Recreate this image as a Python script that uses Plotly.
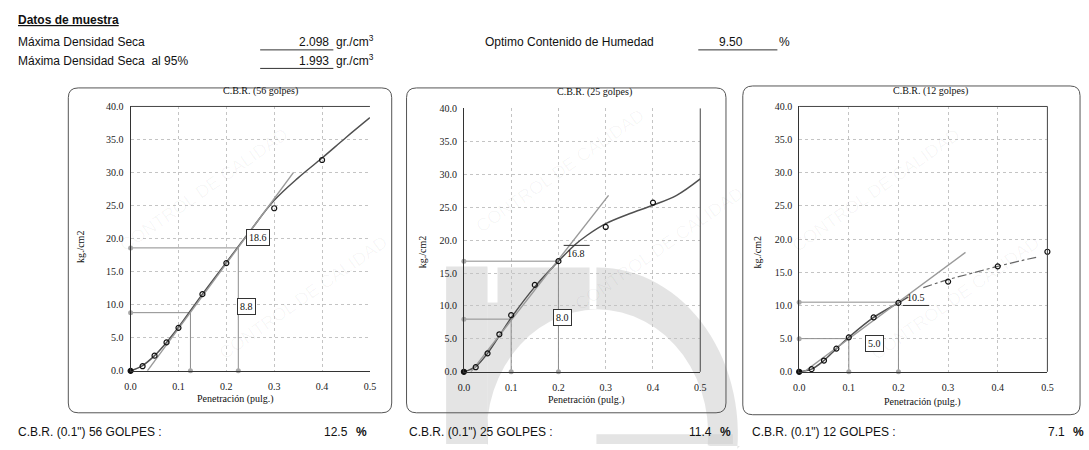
import plotly.graph_objects as go
import math

W, H = 1089, 450

# ---------------- data ----------------
pen = [0.0, 0.025, 0.05, 0.075, 0.1, 0.15, 0.2, 0.3, 0.4]
pen_12 = [0.0, 0.025, 0.05, 0.075, 0.1, 0.15, 0.2, 0.3, 0.4, 0.5]

load_56 = [0.0, 0.7, 2.3, 4.3, 6.5, 11.6, 16.3, 24.6, 31.9]
load_25 = [0.0, 0.7, 2.8, 5.7, 8.6, 13.2, 16.8, 22.0, 25.7]
load_12 = [0.0, 0.4, 1.7, 3.5, 5.2, 8.2, 10.4, 13.6, 15.9, 18.1]

curve_56_x = [0.0, 0.025, 0.05, 0.075, 0.1, 0.15, 0.2, 0.25, 0.3, 0.35, 0.4, 0.45, 0.5]
curve_56_y = [0.0, 0.8, 2.3, 4.3, 6.6, 11.6, 16.4, 21.2, 25.8, 29.2, 32.2, 35.3, 38.3]
curve_25_x = [0.0, 0.025, 0.05, 0.1, 0.15, 0.2, 0.235, 0.26, 0.3, 0.35, 0.4, 0.45, 0.5]
curve_25_y = [0.0, 0.8, 2.8, 8.2, 12.9, 16.8, 19.3, 20.7, 22.5, 24.0, 25.3, 26.8, 29.3]
curve_12_x = [0.0, 0.025, 0.05, 0.075, 0.1, 0.15, 0.2, 0.22]
curve_12_y = [0.0, 0.4, 1.7, 3.5, 5.2, 8.2, 10.4, 11.3]
dash_12_x = [0.25, 0.3, 0.35, 0.4, 0.45, 0.48]
dash_12_y = [12.7, 13.9, 14.9, 15.9, 16.8, 17.3]

tang_56_x = [0.035, 0.34]
tang_56_y = [0.0, 30.0]
tang_25_x = [0.015, 0.306]
tang_25_y = [0.0, 26.8]
tang_12_x = [0.01, 0.335]
tang_12_y = [0.0, 18.0]

corr_pen = [0.1, 0.2]
corr_56_pen = [0.125, 0.225]
corr_56 = [8.8, 18.6]
corr_25 = [8.0, 16.8]
corr_12 = [5.0, 10.5]

titles = ["C.B.R. (56 golpes)", "C.B.R. (25 golpes)", "C.B.R. (12 golpes)"]
cbr_labels = ['C.B.R. (0.1") 56 GOLPES :', 'C.B.R. (0.1") 25 GOLPES :', 'C.B.R. (0.1") 12 GOLPES :']
cbr_values = ["12.5", "11.4", "7.1"]

y_ticks = [0, 5, 10, 15, 20, 25, 30, 35, 40]
x_ticks = [0, 0.1, 0.2, 0.3, 0.4, 0.5]

# ---------------- helpers ----------------
def px(x):
    return x / W

def py(y):
    return 1 - y / H

SERIF = "Liberation Serif"
SANS = "Liberation Sans"

fig = go.Figure()

areas = [(126, 368, 104, 375), (463, 702, 106, 376), (802, 1053, 104, 376)]

charts = [
    dict(pts_x=pen, pts_y=load_56, cx=curve_56_x, cy=curve_56_y, tx=tang_56_x, ty=tang_56_y,
         cpx=corr_56_pen, cpy=corr_56),
    dict(pts_x=pen, pts_y=load_25, cx=curve_25_x, cy=curve_25_y, tx=tang_25_x, ty=tang_25_y,
         cpx=corr_pen, cpy=corr_25),
    dict(pts_x=pen_12, pts_y=load_12, cx=curve_12_x, cy=curve_12_y, tx=tang_12_x, ty=tang_12_y,
         cpx=corr_pen, cpy=corr_12),
]

shapes = []
annotations = []

# faint watermark
wm = "CONTROL DE CALIDAD"
for (wx, wy) in [(200, 190), (300, 300), (560, 170), (660, 250), (880, 190), (960, 300)]:
    annotations.append(dict(x=px(wx), y=py(wy), text=wm, textangle=-35,
                            font=dict(family=SANS, size=18, color="rgba(0,0,0,0.035)")))

# logo-like gray band (background)
def ellipse_pts(cx, cy, rx, ry, a0, a1, n=30):
    pts = []
    for k in range(n + 1):
        a = math.radians(a0 + (a1 - a0) * k / n)
        pts.append((cx + rx * math.cos(a), cy - ry * math.sin(a)))
    return pts

ecx, ecy = 598, 440
outer = ellipse_pts(ecx, ecy, 142, 171, 90, -5)
inner = ellipse_pts(ecx, ecy, 112, 128, -5, 185)
pts = [(487, 450), (487, 269), (598, 269)] + outer + [(742, 452)] + [(712, 452)] + inner + [(486, 452)]
path = "M " + " L ".join(f"{px(a):.5f},{py(b):.5f}" for a, b in pts) + " Z"
gray = "rgba(205,205,205,0.55)"
shapes.append(dict(type="path", path=path, xref="paper", yref="paper", fillcolor=gray, line=dict(width=0), layer="below"))
shapes.append(dict(type="rect", x0=px(445), x1=px(487), y0=py(450), y1=py(268), xref="paper", yref="paper",
                   fillcolor=gray, line=dict(width=0), layer="below"))
shapes.append(dict(type="rect", x0=px(487), x1=px(497), y0=py(305), y1=py(266), xref="paper", yref="paper",
                   fillcolor="white", line=dict(width=0), layer="below"))
shapes.append(dict(type="rect", x0=px(590), x1=px(597), y0=py(312), y1=py(266), xref="paper", yref="paper",
                   fillcolor="white", line=dict(width=0), layer="below"))
shapes.append(dict(type="rect", x0=px(597), x1=px(735), y0=py(450), y1=py(440), xref="paper", yref="paper",
                   fillcolor=gray, line=dict(width=0), layer="below"))

def rrect(x0, y0, x1, y1, r=10):
    P = lambda a, b: f"{px(a):.5f},{py(b):.5f}"
    return (f"M {P(x0 + r, y0)} L {P(x1 - r, y0)} Q {P(x1, y0)} {P(x1, y0 + r)} "
            f"L {P(x1, y1 - r)} Q {P(x1, y1)} {P(x1 - r, y1)} L {P(x0 + r, y1)} "
            f"Q {P(x0, y1)} {P(x0, y1 - r)} L {P(x0, y0 + r)} Q {P(x0, y0)} {P(x0 + r, y0)} Z")

for (bx0, by0, bx1, by1) in [(63, 85, 390, 418), (405, 85, 728, 418), (745, 83, 1086, 420)]:
    shapes.append(dict(type="path", path=rrect(bx0, by0, bx1, by1), xref="paper", yref="paper",
                       line=dict(color="#555", width=1), fillcolor="rgba(0,0,0,0)", layer="below"))

layout_axes = {}
for i, (ch, area) in enumerate(zip(charts, areas)):
    n = "" if i == 0 else str(i + 1)
    xa, ya = "x" + n, "y" + n
    l, r, t, b = area
    layout_axes["xaxis" + n] = dict(domain=[px(l), px(r)], range=[0, 0.5], anchor=ya,
                                    tickvals=x_ticks, ticktext=[f"{v:.1f}" for v in x_ticks],
                                    showgrid=True, gridcolor="#c4c4c4", griddash="dot", gridwidth=1,
                                    zeroline=False, showline=True, linecolor="#333", linewidth=1,
                                    ticks="", ticklabelstandoff=6,
                                    tickfont=dict(family=SERIF, size=10, color="#222"))
    layout_axes["yaxis" + n] = dict(domain=[py(b), py(t)], range=[0, 40], anchor=xa,
                                    tickvals=y_ticks, ticktext=[f"{v:.1f}" for v in y_ticks],
                                    showgrid=True, gridcolor="#c4c4c4", griddash="dot", gridwidth=1,
                                    zeroline=False, showline=True, linecolor="#333", linewidth=1,
                                    ticks="", ticklabelstandoff=4,
                                    tickfont=dict(family=SERIF, size=10, color="#222"))

    if i in (0, 2):
        shapes.append(dict(type="line", xref=xa + " domain", yref=ya + " domain", x0=0, x1=1, y0=1, y1=1,
                           line=dict(color="#444", width=1)))
    if i in (1, 2):
        shapes.append(dict(type="line", xref=xa + " domain", yref=ya + " domain", x0=1, x1=1, y0=0, y1=1,
                           line=dict(color="#444", width=1)))

    for cxp, cyp in zip(ch["cpx"], ch["cpy"]):
        fig.add_trace(go.Scatter(x=[0, cxp, cxp], y=[cyp, cyp, 0], mode="lines",
                                 line=dict(color="#8c8c8c", width=1), xaxis=xa, yaxis=ya, showlegend=False,
                                 hoverinfo="skip"))
        fig.add_trace(go.Scatter(x=[0, cxp], y=[cyp, 0], mode="markers",
                                 marker=dict(color="#a8a8a8", size=5), xaxis=xa, yaxis=ya, showlegend=False,
                                 hoverinfo="skip", cliponaxis=False))
    fig.add_trace(go.Scatter(x=ch["cx"], y=ch["cy"], mode="lines",
                             line=dict(color="#505050", width=1.5, shape="spline"),
                             xaxis=xa, yaxis=ya, showlegend=False))
    fig.add_trace(go.Scatter(x=ch["tx"], y=ch["ty"], mode="lines",
                             line=dict(color="#9a9a9a", width=1.4),
                             xaxis=xa, yaxis=ya, showlegend=False))
    if i == 2:
        fig.add_trace(go.Scatter(x=dash_12_x, y=dash_12_y, mode="lines",
                                 line=dict(color="#666", width=1.2, dash="dashdot", shape="spline"),
                                 xaxis=xa, yaxis=ya, showlegend=False))
    syms = ["circle"] + ["circle-open"] * (len(ch["pts_x"]) - 1)
    fig.add_trace(go.Scatter(x=ch["pts_x"], y=ch["pts_y"], mode="markers",
                             marker=dict(symbol=syms, size=5, color="#111", line=dict(color="#111", width=1.2)),
                             xaxis=xa, yaxis=ya, showlegend=False, cliponaxis=False))

    annotations.append(dict(x=px([257, 595, 935][i]), y=py([88, 89, 88][i]), text=titles[i],
                            font=dict(family=SERIF, size=10, color="#111")))
    annotations.append(dict(x=px([232, 587, 927][i]), y=py([404, 405, 407][i]),
                            text="Penetración (pulg.)",
                            font=dict(family=SERIF, size=10, color="#111")))
    annotations.append(dict(x=px([76, 421, 760][i]), y=py([248, 253, 253][i]),
                            text="kg./cm2", textangle=-90,
                            font=dict(family=SERIF, size=10, color="#111")))

box = dict(bordercolor="#333", borderwidth=1, bgcolor="white", borderpad=2)
VF = dict(family=SERIF, size=10, color="#111")
annotations.append(dict(x=0.2665, y=20.1, xref="x", yref="y", text=f"{corr_56[1]:.1f}", font=VF, **box))
annotations.append(dict(x=0.242, y=9.7, xref="x", yref="y", text=f"{corr_56[0]:.1f}", font=VF, **box))
annotations.append(dict(x=0.238, y=17.9, xref="x2", yref="y2", text=f"{corr_25[1]:.1f}", font=VF))
shapes.append(dict(type="line", xref="x2", yref="y2", x0=0.211, x1=0.266, y0=19.2, y1=19.2,
                   line=dict(color="#333", width=1)))
annotations.append(dict(x=0.209, y=8.3, xref="x2", yref="y2", text=f"{corr_25[0]:.1f}", font=VF, **box))
annotations.append(dict(x=0.235, y=11.2, xref="x3", yref="y3", text=f"{corr_12[1]:.1f}", font=VF))
shapes.append(dict(type="line", xref="x3", yref="y3", x0=0.209, x1=0.262, y0=10.0, y1=10.0,
                   line=dict(color="#333", width=1)))
annotations.append(dict(x=0.151, y=4.3, xref="x3", yref="y3", text=f"{corr_12[0]:.1f}", font=VF, **box))

TXT = dict(family=SANS, size=12, color="#111")
annotations += [
    dict(x=px(10), y=py(15), text="<b><u>Datos de muestra</u></b>", xanchor="left"),
    dict(x=px(10), y=py(38), text="Máxima Densidad Seca", xanchor="left"),
    dict(x=px(10), y=py(57), text="Máxima Densidad Seca  al 95%", xanchor="left"),
    dict(x=px(329), y=py(38), text="2.098", xanchor="right"),
    dict(x=px(329), y=py(57), text="1.993", xanchor="right"),
    dict(x=px(332), y=py(37), text="gr./cm<sup>3</sup>", xanchor="left"),
    dict(x=px(332), y=py(56), text="gr./cm<sup>3</sup>", xanchor="left"),
    dict(x=px(482), y=py(38), text="Optimo Contenido de Humedad", xanchor="left"),
    dict(x=px(733), y=py(38), text="9.50", xanchor="center"),
    dict(x=px(780), y=py(38), text="%", xanchor="left"),
]
for k, xl in enumerate([10, 405, 752]):
    annotations.append(dict(x=px(xl), y=py(438), text=cbr_labels[k], xanchor="left"))
for xv, v in zip([348, 716, 1073], cbr_values):
    annotations.append(dict(x=px(xv), y=py(438), text=v, xanchor="right"))
    annotations.append(dict(x=px(xv + 4), y=py(438), text="<b>%</b>", xanchor="left"))

for a in annotations:
    a.setdefault("xref", "paper")
    a.setdefault("yref", "paper")
    a.setdefault("showarrow", False)
    a.setdefault("font", TXT)
    a.setdefault("xanchor", "center")
    a.setdefault("yanchor", "middle")

for (x0, x1, yy) in [(257, 331, 46), (257, 331, 65), (700, 780, 46)]:
    shapes.append(dict(type="line", xref="paper", yref="paper", x0=px(x0), x1=px(x1), y0=py(yy), y1=py(yy),
                       line=dict(color="#333", width=1)))

fig.update_layout(width=W, height=H, margin=dict(l=0, r=0, t=0, b=0),
                  paper_bgcolor="white", plot_bgcolor="rgba(0,0,0,0)",
                  shapes=shapes, annotations=annotations, showlegend=False, **layout_axes)

fig.write_html("out.html")
